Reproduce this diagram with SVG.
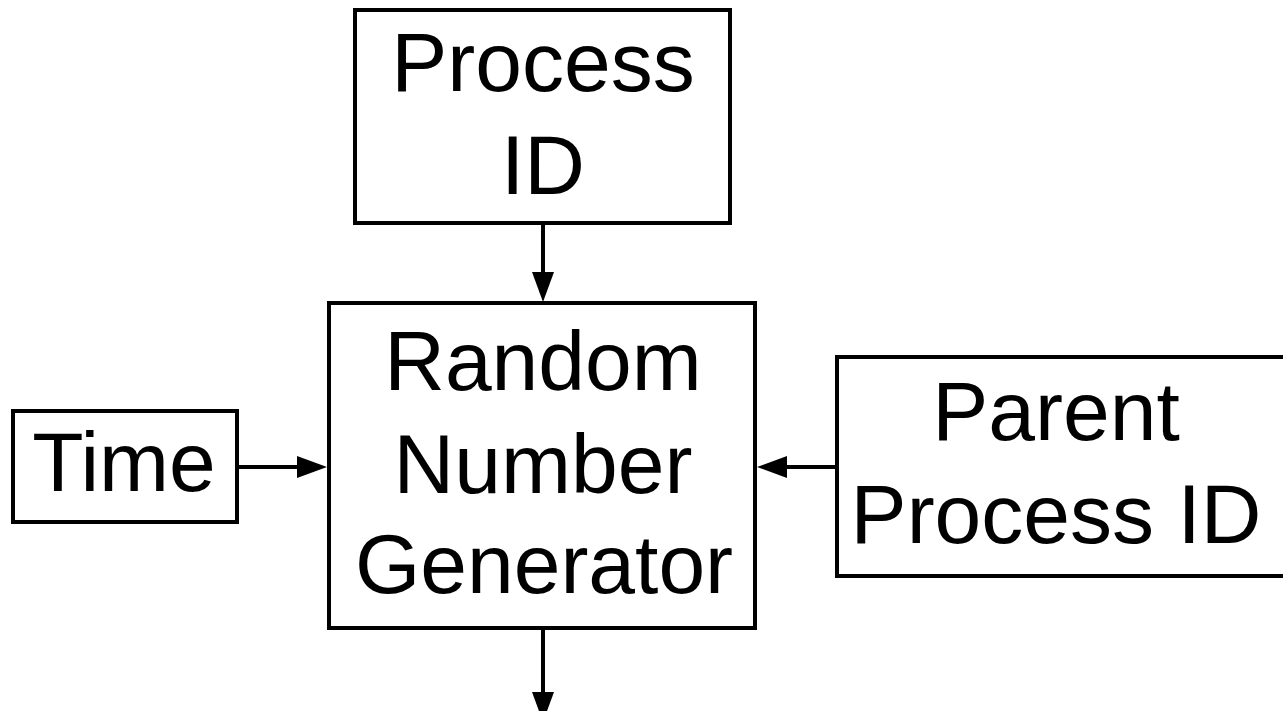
<svg xmlns="http://www.w3.org/2000/svg" width="1283" height="711" viewBox="0 0 1283 711">
  <style>
    .box { fill: #ffffff; stroke: #000000; stroke-width: 4; }
    .label { font-family: "Liberation Sans", Arial, sans-serif; font-size: 84px; fill: #000000; text-anchor: middle; }
    .wire { stroke: #000000; stroke-width: 4; fill: none; marker-end: url(#head); }
  </style>
  <defs>
    <marker id="head" markerUnits="userSpaceOnUse" markerWidth="31" markerHeight="23" refX="0" refY="11" orient="auto" overflow="visible">
      <path d="M0,0 L30,11 L0,22 z" fill="#000000"/>
    </marker>
  </defs>
  <rect width="1283" height="711" fill="#ffffff"/>

  <g id="connectors">
    <line class="wire" x1="543" y1="223" x2="543" y2="272"/>
    <line class="wire" x1="237" y1="467" x2="297" y2="467"/>
    <line class="wire" x1="837" y1="467" x2="787" y2="467"/>
    <line class="wire" x1="543" y1="628" x2="543" y2="692"/>
  </g>

  <g id="process-id">
    <rect class="box" x="355" y="10" width="375" height="213"/>
    <text class="label" x="543" y="91">Process</text>
    <text class="label" x="543" y="194">ID</text>
  </g>

  <g id="rng">
    <rect class="box" x="329" y="303" width="426" height="325"/>
    <text class="label" x="543" y="390">Random</text>
    <text class="label" x="543" y="493">Number</text>
    <text class="label" x="544" y="593">Generator</text>
  </g>

  <g id="time">
    <rect class="box" x="13" y="411" width="224" height="111"/>
    <text class="label" x="124" y="491">Time</text>
  </g>

  <g id="parent-process-id">
    <rect class="box" x="837" y="357" width="460" height="219"/>
    <text class="label" x="1056" y="440">Parent</text>
    <text class="label" x="1056" y="543">Process ID</text>
  </g>
</svg>
